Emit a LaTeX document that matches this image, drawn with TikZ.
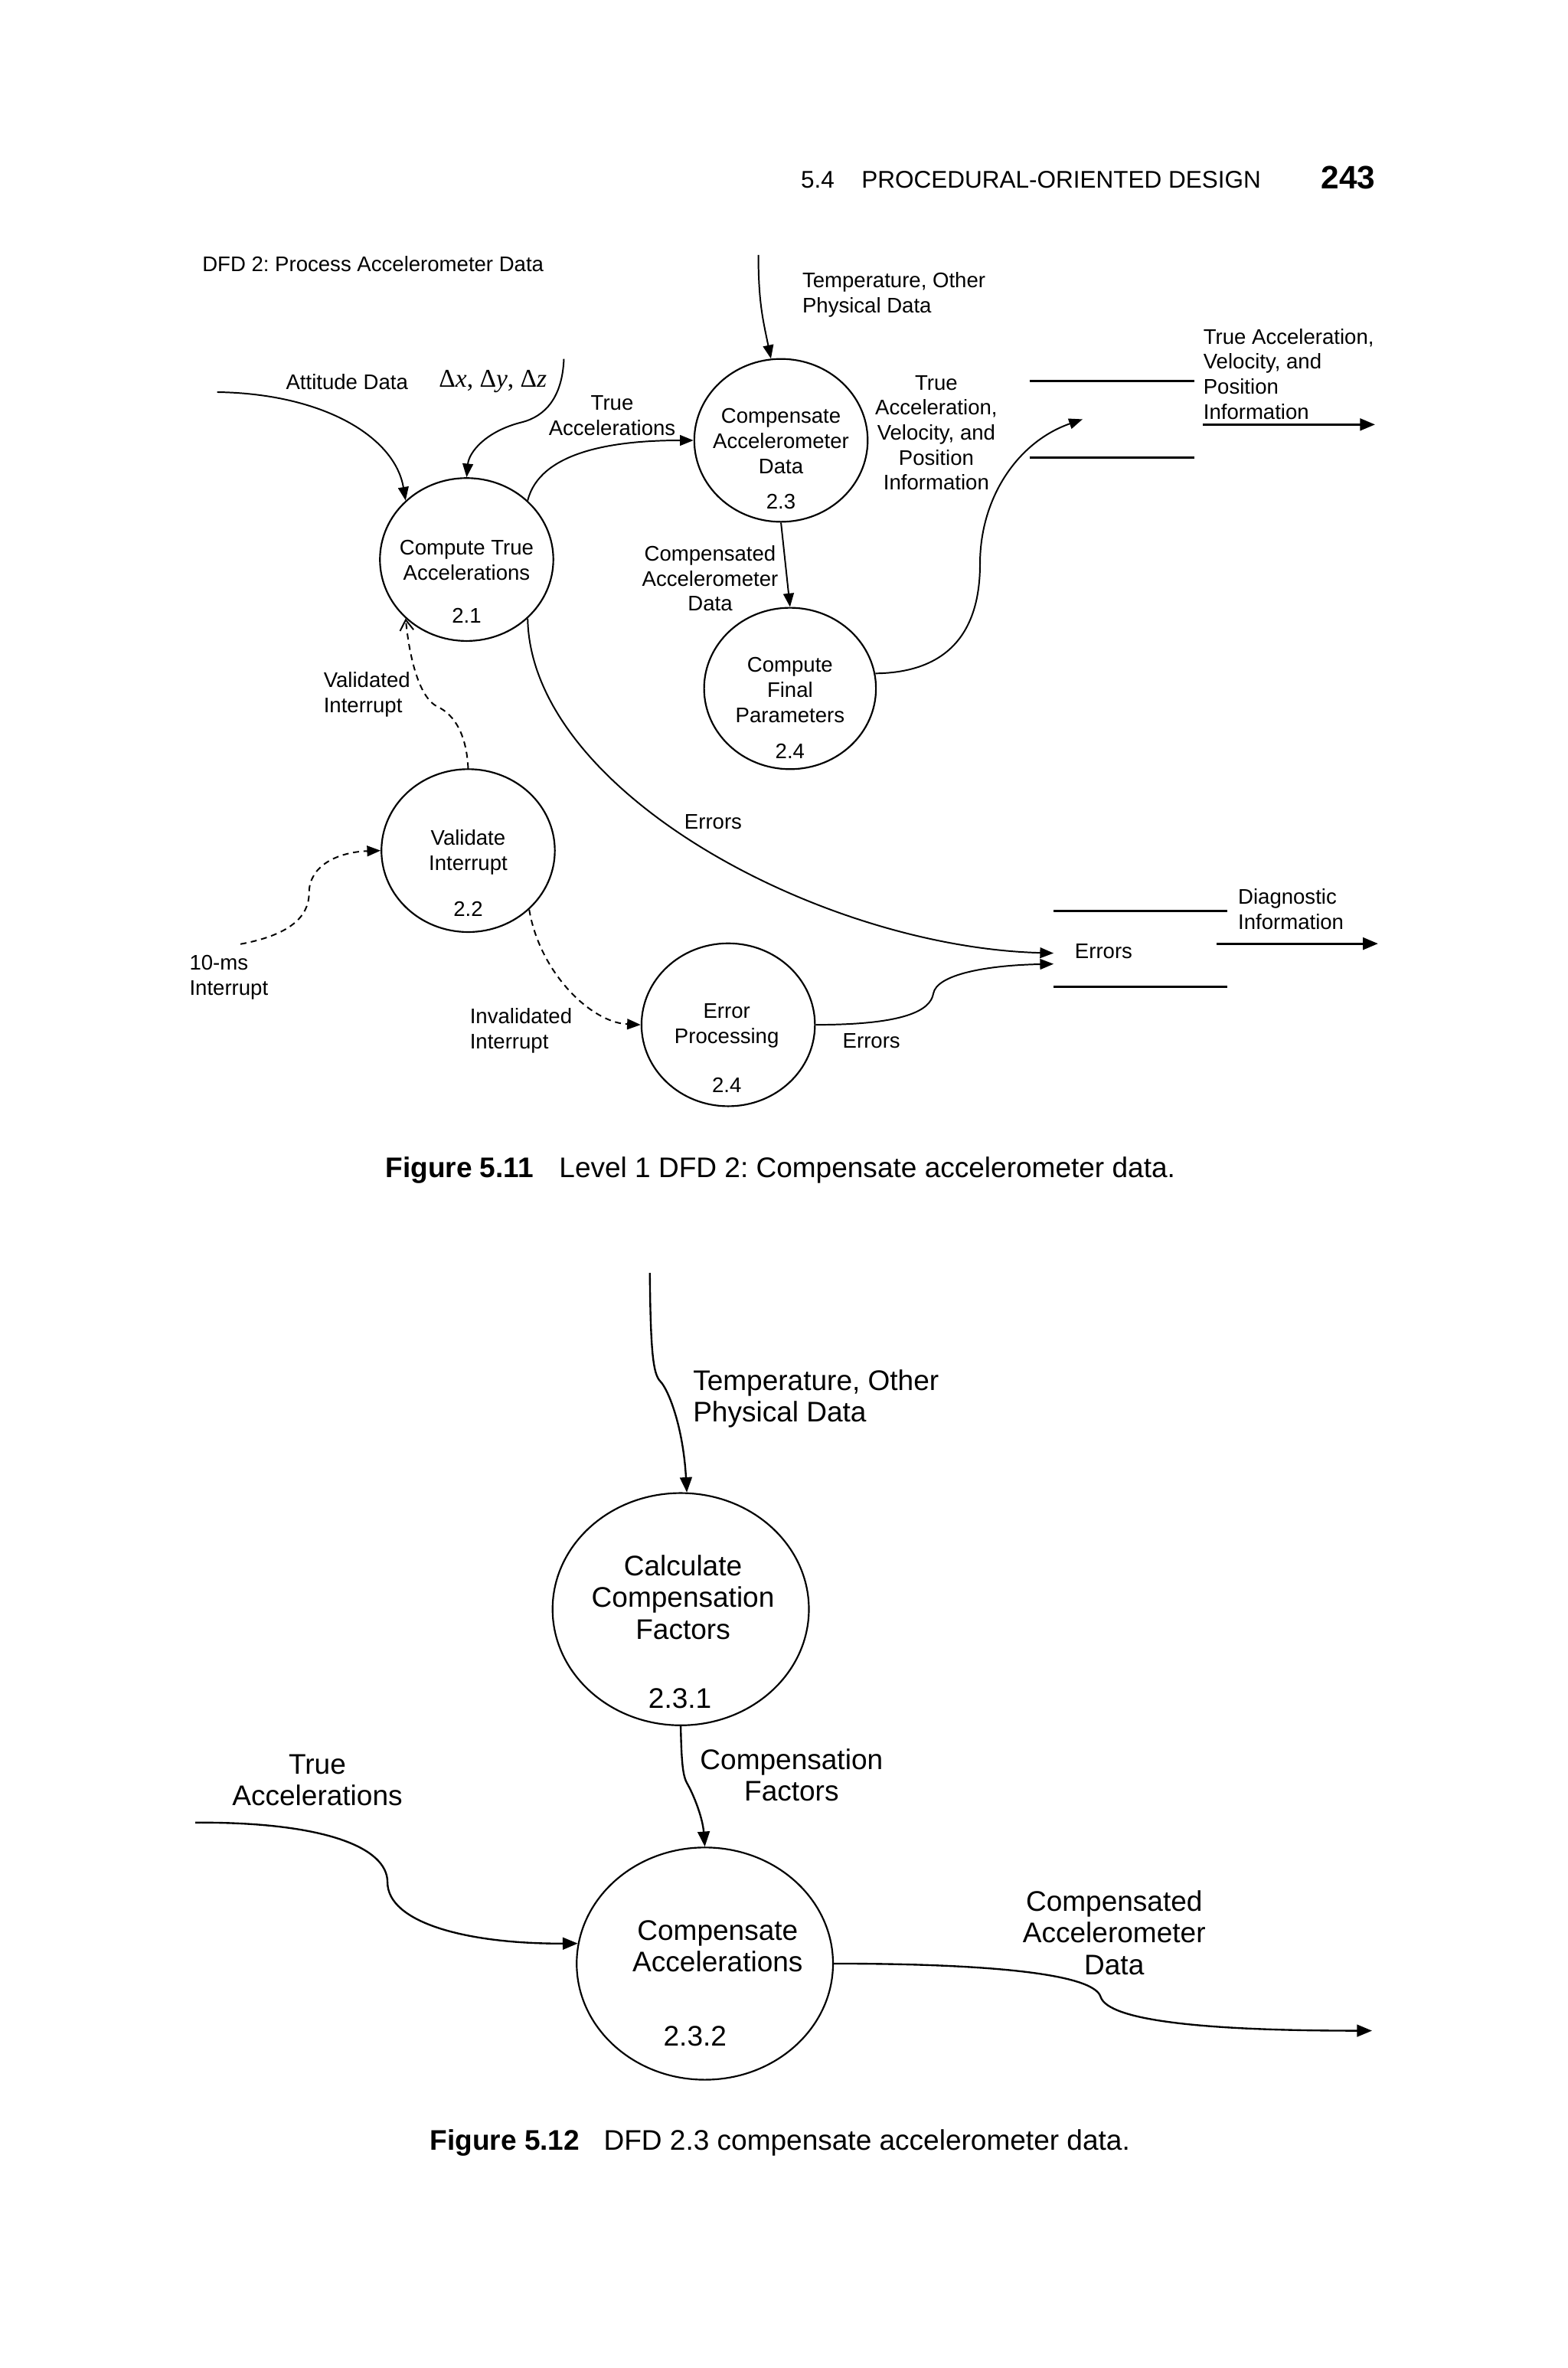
\documentclass[tikz,border=0pt]{standalone}
\usepackage{fontspec}
\setmainfont{Liberation Sans}
\newfontfamily\serifdelta{Liberation Serif}
\usetikzlibrary{arrows.meta,shapes.geometric,calc}
\frenchspacing
\tikzset{
  proc/.style={draw, ellipse, line width=1.1pt, inner sep=0pt},
  lab/.style={font=\fontsize{14}{16.6}\selectfont, align=center, inner sep=0pt},
  labl/.style={lab, align=left, anchor=west},
  biglab/.style={font=\fontsize{18.8}{21}\selectfont, align=center, inner sep=0pt},
  bigl/.style={biglab, align=left, anchor=west},
  flow/.style={line width=1pt, -{Triangle[length=9pt,width=7pt]}},
  bigflow/.style={line width=1.2pt, -{Triangle[length=10pt,width=8pt]}},
  dflow/.style={flow, dash pattern=on 4pt off 3pt},
  oflow/.style={line width=1pt, dash pattern=on 4pt off 3pt, -{Straight Barb[length=7pt,width=9pt]}},
  outflow/.style={line width=1.4pt, -{Triangle[length=10pt,width=8pt]}},
  storeline/.style={line width=1.5pt},
  datastore/.style={minimum height=50pt, inner sep=0pt},
  caption/.style={anchor=west, inner sep=0pt, font=\fontsize{18.8}{22}\selectfont},
}
\begin{document}
\begin{tikzpicture}[x=1pt,y=-1pt]
\useasboundingbox (0,0) rectangle (1040,1570.16);

% ---------- header ----------
\node[anchor=west, inner sep=0pt, font=\fontsize{16}{19}\selectfont] (hdr) at (531,119) {5.4\hspace{18pt}PROCEDURAL-ORIENTED DESIGN};
\node[anchor=west, inner sep=0pt, font=\fontsize{21.5}{24}\selectfont\bfseries] (pg) at (876,118) {243};

% ---------- Figure 5.11 ----------
\node[labl] (title) at (134,175) {DFD 2: Process Accelerometer Data};

% processes
\node[proc, minimum width=115pt, minimum height=108pt] (p21) at (309.5,371) {};
\node[proc, minimum width=115pt, minimum height=108pt] (p23) at (518,292) {};
\node[proc, minimum width=114pt, minimum height=107pt] (p24) at (524,456.5) {};
\node[proc, minimum width=115pt, minimum height=108pt] (p22) at (310.5,564) {};
\node[proc, minimum width=115pt, minimum height=108pt] (pe) at (483,679.5) {};

\node[lab] (t21) at (309.5,371.5) {Compute True\\Accelerations};
\node[lab] (n21) at (309.5,408) {2.1};
\node[lab] (t23) at (518,292.5) {Compensate\\Accelerometer\\Data};
\node[lab] (n23) at (518,332.5) {2.3};
\node[lab] (t24) at (524,457.5) {Compute\\Final\\Parameters};
\node[lab] (n24) at (524,498) {2.4};
\node[lab] (t22) at (310.5,565) {Validate\\Interrupt};
\node[lab] (n22) at (310.5,602.5) {2.2};
\node[lab] (te) at (482,680) {Error\\Processing};
\node[lab] (ne) at (482,719.5) {2.4};

% data stores
\node[datastore, minimum width=109pt] (s1) at (737.5,278) {};
\draw[storeline] (s1.north west) -- (s1.north east) (s1.south west) -- (s1.south east);
\node[datastore, minimum width=115pt] (s2) at (756.5,629) {};
\draw[storeline] (s2.north west) -- (s2.north east) (s2.south west) -- (s2.south east);
\node[lab] (s2t) at (732,631) {Errors};

% free ends
\coordinate (tin) at (503,169);
\coordinate (att) at (144,260);
\coordinate (dl) at (374,238);
\coordinate (s1in) at (718,278);
\coordinate (o1a) at (798,281.5);
\coordinate (o1b) at (912,281.5);
\coordinate (int) at (159.5,626);
\coordinate (o2a) at (807,625.7);
\coordinate (o2b) at (914,625.7);

% flows
\draw[flow] (tin) .. controls (503,200) and (506,212) .. (p23.97);
\draw[flow] (att) .. controls (215,261) and (262,290) .. (p21.136);
\draw[flow] (dl) .. controls (373,263) and (362,276) .. (346,280) .. controls (322,286) and (311,300) .. (p21.north);
\draw[flow] (p21.44) .. controls (358,300) and (405,292) .. (p23.west);
\draw[flow] (p23.south) -- (p24.north);
\draw[flow] (p24.10) .. controls (628,446) and (650,420) .. (650,374) .. controls (650,330) and (675,293) .. (s1in);
\draw[outflow] (o1a) -- (o1b);
\draw[flow] (p21.-44) .. controls (352,525) and (545,628) .. (s2.183);
\draw[flow] (pe.east) .. controls (600,679.5) and (617,670) .. (619,659) .. controls (621,646) and (655,640) .. (s2.190);
\draw[oflow] (p22.north) .. controls (309.5,488) and (302,474) .. (290,468.5) .. controls (279,463) and (272,440) .. (p21.-136);
\draw[dflow] (int) .. controls (192,620) and (205,608) .. (205,592) .. controls (205,574) and (224,565) .. (p22.west);
\draw[dflow] (p22.-44) .. controls (358,645) and (392,678) .. (pe.west);
\draw[outflow] (o2a) -- (o2b);

% flow labels
\node[labl] (l_temp) at (532,195.5) {Temperature, Other\\Physical Data};
\node[labl] (l_att) at (189.5,253) {Attitude Data};
\node[anchor=west, inner sep=0pt, font=\fontsize{17}{19}\selectfont\serifdelta] (l_dxyz) at (291,253) {Δ\textit{x}, Δ\textit{y}, Δ\textit{z}};
\node[lab] (l_ta) at (406,275.5) {True\\Accelerations};
\node[lab] (l_cad) at (471,383.5) {Compensated\\Accelerometer\\Data};
\node[lab] (l_tavp) at (621,287) {True\\Acceleration,\\Velocity, and\\Position\\Information};
\node[labl] (l_out1) at (798,248) {True Acceleration,\\Velocity, and\\Position\\Information};
\node[labl] (l_vi) at (214.5,460.5) {Validated\\Interrupt};
\node[lab] (l_err1) at (473,545) {Errors};
\node[labl] (l_10ms) at (125.5,648) {10-ms\\Interrupt};
\node[labl] (l_ii) at (311.5,683.5) {Invalidated\\Interrupt};
\node[lab] (l_err2) at (578,690) {Errors};
\node[labl] (l_diag) at (821,603) {Diagnostic\\Information};

\node[caption] (cap1) at (255.5,776) {\textbf{Figure 5.11}\hspace{17pt}Level 1 DFD 2: Compensate accelerometer data.};

% ---------- Figure 5.12 ----------
\node[proc, minimum width=170pt, minimum height=154pt] (q231) at (451.5,1067) {};
\node[proc, minimum width=170pt, minimum height=154pt] (q232) at (467.5,1302) {};

\node[biglab] (t231) at (453,1059) {Calculate\\Compensation\\Factors};
\node[biglab] (n231) at (451,1126) {2.3.1};
\node[biglab] (t232) at (476,1290.5) {Compensate\\Accelerations};
\node[biglab] (n232) at (461,1350) {2.3.2};

\coordinate (tin2) at (431,844);
\coordinate (ta2) at (129.5,1208.5);
\coordinate (out2) at (910,1346.5);

\draw[bigflow] (tin2) .. controls (431.5,895) and (433,911) .. (438,916) .. controls (443,921) and (453,945) .. (q231.87);
\draw[bigflow] (q231.south) .. controls (452,1170) and (453,1178) .. (456,1183) .. controls (460,1190) and (466,1205) .. (q232.north);
\draw[bigflow] (ta2) .. controls (215,1208) and (257,1225) .. (257,1248) .. controls (257,1275) and (310,1289) .. (q232.171);
\draw[bigflow] (q232.east) .. controls (650,1302) and (725,1308) .. (730,1324) .. controls (735,1340) and (800,1346.5) .. (out2);

\node[bigl] (l_temp2) at (459.5,927.5) {Temperature, Other\\Physical Data};
\node[biglab] (l_cf) at (525,1177) {Compensation\\Factors};
\node[biglab] (l_ta2) at (210.5,1180.5) {True\\Accelerations};
\node[biglab] (l_cad2) at (739,1281.5) {Compensated\\Accelerometer\\Data};

\node[caption] (cap2) at (285,1421) {\textbf{Figure 5.12}\hspace{16pt}DFD 2.3 compensate accelerometer data.};
\end{tikzpicture}
\end{document}
